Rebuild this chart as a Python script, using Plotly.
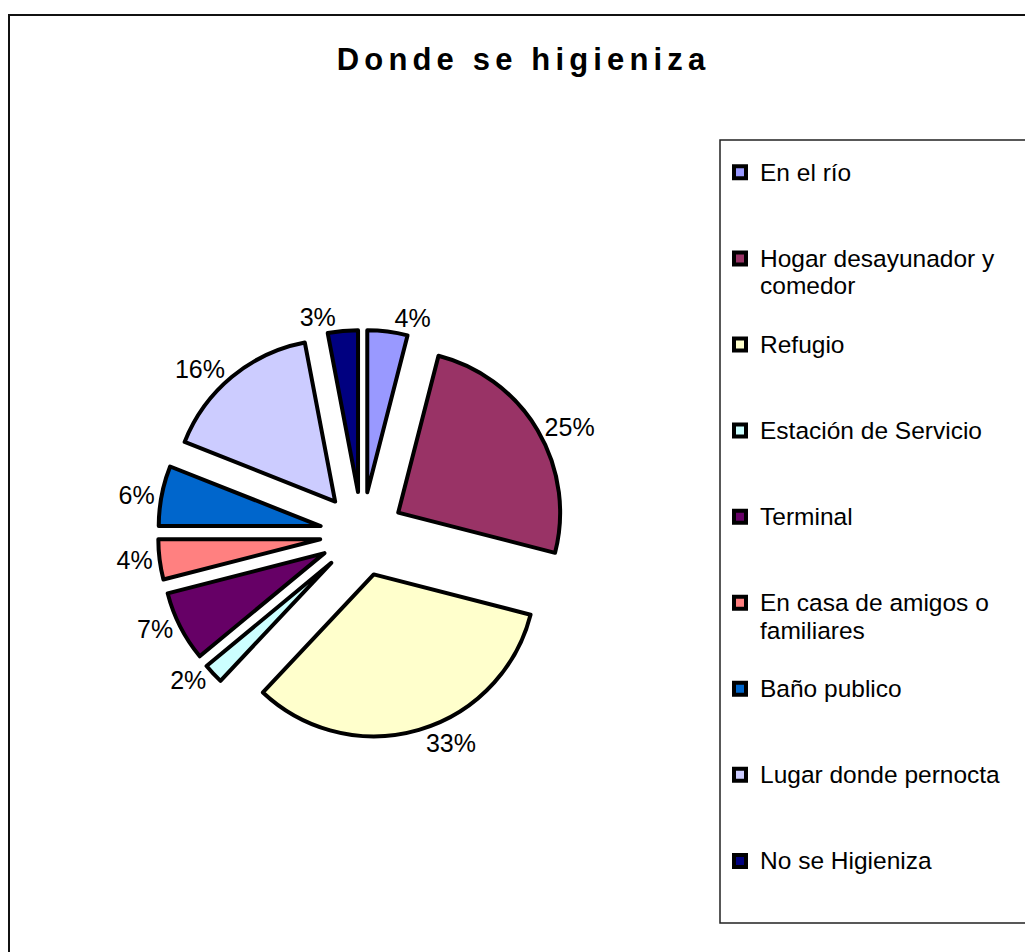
import plotly.graph_objects as go

categories = ["En el río", "Hogar desayunador y comedor", "Refugio", "Estación de Servicio",
              "Terminal", "En casa de amigos o familiares", "Baño publico",
              "Lugar donde pernocta", "No se Higieniza"]
legend_labels = ["En el río", "Hogar desayunador y<br>comedor", "Refugio", "Estación de Servicio",
                 "Terminal", "En casa de amigos o<br>familiares", "Baño publico",
                 "Lugar donde pernocta", "No se Higieniza"]
values = [4, 25, 33, 2, 7, 4, 6, 16, 3]
colors = ["#9999FF", "#993366", "#FFFFCC", "#CCFFFF", "#660066", "#FF8080", "#0066CC", "#CCCCFF", "#000080"]
title_words = ["Donde", "se", "higieniza"]

W, H = 1033, 952
FONT = "Arial, Liberation Sans, sans-serif"
# page offset of the plot div (body margin)
OX, OY = 8, 8

def pad_label(s, n=3):
    lines = s.split("<br>")
    lines += ["\u00a0"] * (n - len(lines))
    return "<br>".join(f"<span style='font-size:24.5px'>{l}</span>" for l in lines)

cx, cy, half = 362 - OX, 534 - OY, 204

fig = go.Figure()
fig.add_trace(go.Pie(
    labels=[pad_label(l) for l in legend_labels],
    values=values,
    sort=False,
    direction="clockwise",
    rotation=0,
    pull=[0.26] * len(values),
    marker=dict(colors=colors, line=dict(color="black", width=4)),
    textinfo="percent",
    textposition="outside",
    textfont=dict(family=FONT, size=25, color="black"),
    domain=dict(x=[(cx - half) / W, (cx + half) / W], y=[1 - (cy + half) / H, 1 - (cy - half) / H]),
    hoverinfo="label+percent",
))

sp = "\u2006"
title_text = (sp + " " + sp).join(sp.join(list(w)) for w in title_words)

fig.update_layout(
    width=W, height=H,
    margin=dict(l=0, r=0, t=0, b=0),
    paper_bgcolor="white",
    plot_bgcolor="white",
    title=dict(text=f"<b>{title_text}</b>", x=(521 - OX) / W, xanchor="center", y=1 - (59 - OY) / H,
               yanchor="middle", yref="container",
               font=dict(family=FONT, size=31, color="black")),
    legend=dict(x=(712) / W, xanchor="left", y=1 - 144 / H, yanchor="top",
                font=dict(family=FONT, size=21.3, color="black"),
                bgcolor="rgba(0,0,0,0)", borderwidth=0, valign="top", traceorder="normal"),
    showlegend=True,
    shapes=[
        dict(type="rect", xref="paper", yref="paper", x0=1 / W, x1=1.02, y0=-0.02, y1=1 - 7 / H,
             line=dict(color="#111", width=2)),
        dict(type="rect", xref="paper", yref="paper", x0=(720 - OX) / W, x1=(1028 - OX) / W,
             y0=1 - (923 - OY) / H, y1=1 - (140 - OY) / H,
             line=dict(color="#222", width=1.5)),
    ],
)

fig.write_html("out.html")
